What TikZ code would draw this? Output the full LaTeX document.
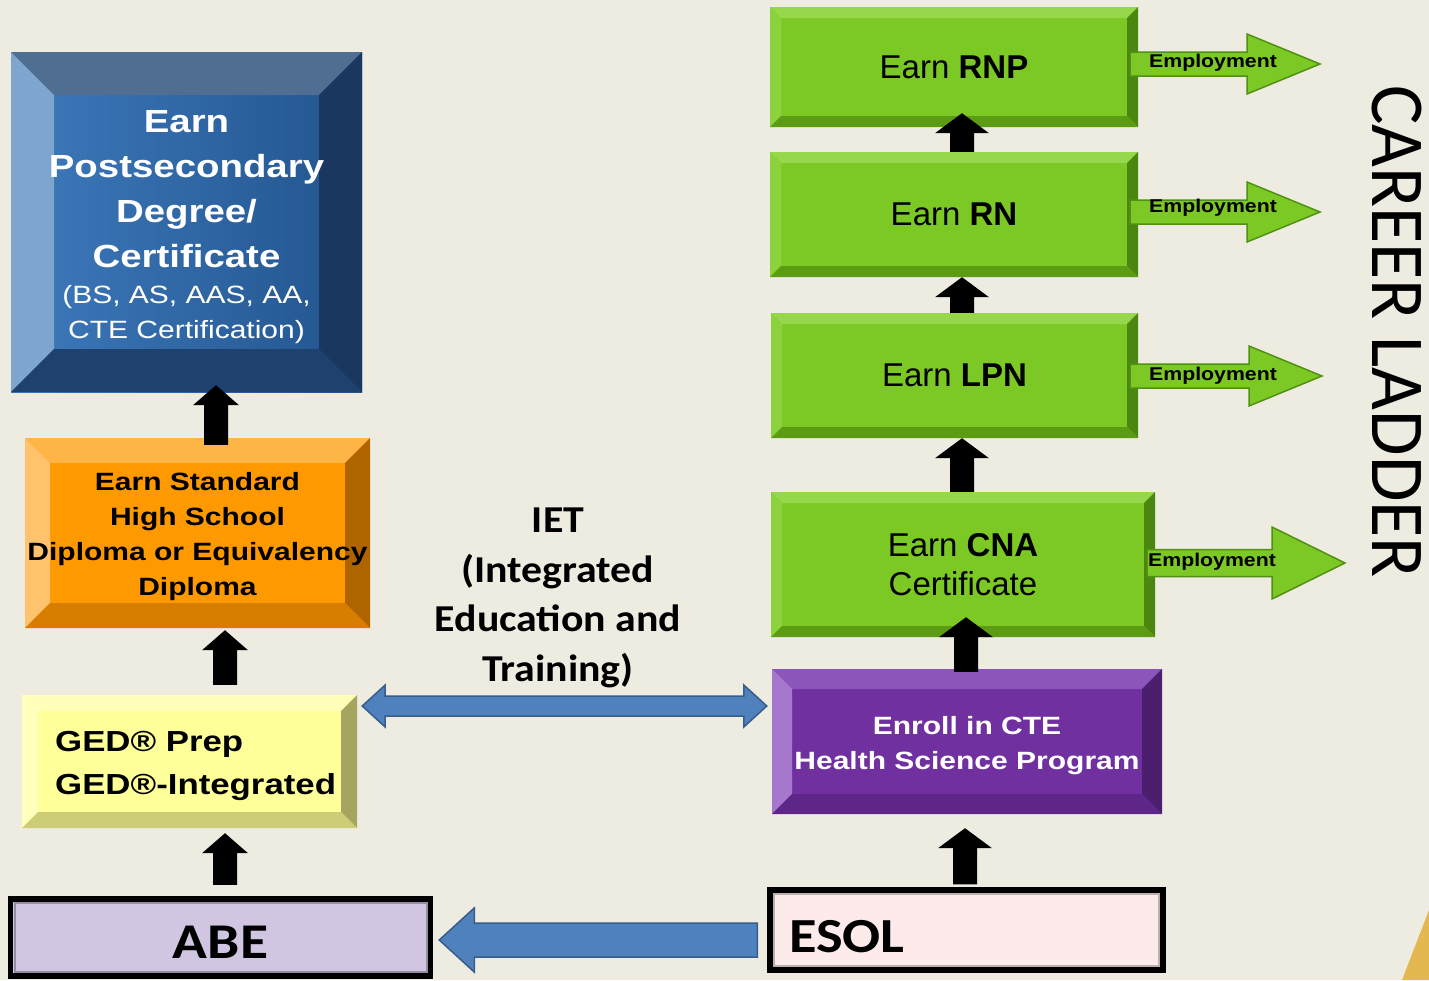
\documentclass[tikz,border=0pt]{standalone}
\usepackage{fontspec}
\usetikzlibrary{calc}
\setmainfont{Liberation Sans}
\newfontfamily\arialS[FakeStretch=1.2]{Liberation Sans}
\newfontfamily\arialE[FakeStretch=1.15]{Liberation Sans}
\newfontfamily\calS[FakeStretch=1.1]{Carlito}
\newfontfamily\calT[FakeStretch=1.15]{Carlito}
\newfontfamily\calN{Carlito}

\definecolor{bg}{RGB}{238,236,225}
\definecolor{gold}{RGB}{228,184,80}
% blue box
\definecolor{bfL}{RGB}{62,122,188}
\definecolor{bfR}{RGB}{34,84,142}
\definecolor{bT}{RGB}{80,110,145}
\definecolor{bL}{RGB}{125,165,205}
\definecolor{bR}{RGB}{25,55,95}
\definecolor{bB}{RGB}{30,65,110}
% orange
\definecolor{oF}{RGB}{255,153,0}
\definecolor{oT}{RGB}{255,180,70}
\definecolor{oL}{RGB}{255,195,110}
\definecolor{oR}{RGB}{175,100,0}
\definecolor{oB}{RGB}{215,125,0}
% yellow
\definecolor{yF}{RGB}{255,255,153}
\definecolor{yT}{RGB}{255,255,185}
\definecolor{yL}{RGB}{255,255,190}
\definecolor{yR}{RGB}{165,165,95}
\definecolor{yB}{RGB}{205,205,120}
% purple
\definecolor{pF}{RGB}{112,48,160}
\definecolor{pT}{RGB}{140,85,185}
\definecolor{pL}{RGB}{165,120,205}
\definecolor{pR}{RGB}{75,30,110}
\definecolor{pB}{RGB}{95,38,138}
% green
\definecolor{gF}{RGB}{124,200,36}
\definecolor{gT}{RGB}{150,215,75}
\definecolor{gL}{RGB}{140,210,60}
\definecolor{gR}{RGB}{75,135,15}
\definecolor{gB}{RGB}{92,155,20}
\definecolor{gE}{RGB}{80,145,20}
% others
\definecolor{lav}{RGB}{208,198,226}
\definecolor{lavE}{RGB}{150,140,165}
\definecolor{pink}{RGB}{253,234,234}
\definecolor{pinkE}{RGB}{190,175,175}
\definecolor{bluA}{RGB}{79,129,189}
\definecolor{bluE}{RGB}{56,93,138}

\tikzset{
  bev/.style n args={6}{fill=#2, path picture={
    \fill[#3] (path picture bounding box.north west) -- (path picture bounding box.north east)
      -- ([xshift=-#1,yshift=-#1]path picture bounding box.north east)
      -- ([xshift=#1,yshift=-#1]path picture bounding box.north west) -- cycle;
    \fill[#4] (path picture bounding box.north west) -- ([xshift=#1,yshift=-#1]path picture bounding box.north west)
      -- ([xshift=#1,yshift=#1]path picture bounding box.south west) -- (path picture bounding box.south west) -- cycle;
    \fill[#5] (path picture bounding box.north east) -- (path picture bounding box.south east)
      -- ([xshift=-#1,yshift=#1]path picture bounding box.south east)
      -- ([xshift=-#1,yshift=-#1]path picture bounding box.north east) -- cycle;
    \fill[#6] (path picture bounding box.south west) -- ([xshift=#1,yshift=#1]path picture bounding box.south west)
      -- ([xshift=-#1,yshift=#1]path picture bounding box.south east) -- (path picture bounding box.south east) -- cycle;
  }},
  box/.style={inner sep=0pt, align=center},
  greenbox/.style={box, bev={11pt}{gF}{gT}{gL}{gR}{gB}, font=\fontsize{33}{39}\selectfont},
  framed/.style n args={2}{box, draw=black, line width=5.5pt, fill=#1, path picture={
    \draw[#2, line width=2pt] ([xshift=4pt,yshift=-4pt]path picture bounding box.north west)
      rectangle ([xshift=-4pt,yshift=4pt]path picture bounding box.south east);}},
  emp/.style={fill=gF, draw=gE, line width=1.5pt, line join=miter},
  emptext/.style={font=\arialE\bfseries\fontsize{18.5}{20}\selectfont, text=black},
  blu/.style={fill=bluA, draw=bluE, line width=1.5pt, line join=miter}
}

\newcommand\blkarrow[3]{%
  \fill[black] let \p1=(#1), \p2=(#2) in
    (\x1-12pt,\y1) -- (\x1-12pt,\y2-20pt) -- (\x1-#3,\y2-20pt) -- (\x1,\y2)
    -- (\x1+#3,\y2-20pt) -- (\x1+12pt,\y2-20pt) -- (\x1+12pt,\y1) -- cycle;}

\newcommand\emparrow[5]{%
  \filldraw[emp] let \p1=(#1.east), \p2=(#2) in
    (\x1-8pt,\y2+#3) -- (\x2-#5,\y2+#3) -- (\x2-#5,\y2+#4) -- (\x2,\y2)
    -- (\x2-#5,\y2-#4) -- (\x2-#5,\y2-#3) -- (\x1-8pt,\y2-#3) -- cycle;}

\newcommand\regline{\mdseries\fontsize{25}{45}\selectfont}

\begin{document}
\begin{tikzpicture}[x=1pt,y=-1pt]
\fill[bg] (0,0) rectangle (1429,980);
\useasboundingbox (0,0) rectangle (1429,980);
\fill[gold] (1402,980) -- (1429,910) -- (1429,980) -- cycle;

% left column
\node[box, bev={43pt}{bfL}{bT}{bL}{bR}{bB}, left color=bfL, right color=bfR,
  minimum width=351pt, minimum height=340pt] (post) at (186.5,222) {};
\node[align=center, inner sep=0pt, text=white,
  font=\arialS\bfseries\fontsize{32}{45}\selectfont] (posttxt) at (186.5,227)
  {Earn\\Postsecondary\\Degree/\\Certificate\\[-8.5pt]\regline (BS, AS, AAS, AA,\\[-10pt]\regline CTE Certification)};

\node[box, bev={25pt}{oF}{oT}{oL}{oR}{oB}, minimum width=345pt, minimum height=190pt,
  font=\arialS\bfseries\fontsize{25}{35}\selectfont] (hs) at (197.5,533)
  {\rule{0pt}{26pt}Earn Standard\\High School\\Diploma or Equivalency\\Diploma};

\node[box, bev={16pt}{yF}{yT}{yL}{yR}{yB}, minimum width=335pt, minimum height=133pt] (ged) at (189.5,761.5) {};
\node[anchor=west, align=left, inner sep=0pt, font=\arialS\bfseries\fontsize{29}{43}\selectfont] (gedtxt) at (55,766)
  {GED® Prep\\GED®-Integrated};

\node[framed={lav}{lavE}, minimum width=420pt, minimum height=77pt,
  font=\calT\bfseries\fontsize{50}{55}\selectfont] (abe) at (220.5,937.5) {\raisebox{-21pt}[0pt][0pt]{ABE}};

% right column
\node[greenbox, minimum width=368pt, minimum height=120pt] (rnp) at (954,67) {Earn \textbf{RNP}};
\node[greenbox, minimum width=368pt, minimum height=125pt] (rn) at (954,214.5) {Earn \textbf{RN}};
\node[greenbox, minimum width=367pt, minimum height=125pt] (lpn) at (954.5,375.5) {Earn \textbf{LPN}};
\node[greenbox, minimum width=384pt, minimum height=145pt] (cna) at (963,564.5) {Earn \textbf{CNA}\\Certificate};

\node[box, bev={20pt}{pF}{pT}{pL}{pR}{pB}, minimum width=390pt, minimum height=145pt, text=white,
  font=\arialS\bfseries\fontsize{25}{35}\selectfont] (cte) at (967,741.5)
  {\rule{0pt}{26pt}Enroll in CTE\\Health Science Program};

\node[framed={pink}{pinkE}, minimum width=393pt, minimum height=80pt] (esol) at (966.5,930) {};
\node[anchor=west, inner sep=0pt, font=\calT\bfseries\fontsize{49}{55}\selectfont] (esoltxt) at (789,937) {ESOL};

% middle text
\node[align=center, inner sep=0pt, font=\calS\bfseries\fontsize{38}{49.5}\selectfont] (iet) at (558,598)
  {IET\\(Integrated\\Education and\\Training)};

% career ladder
\node[rotate=-90, anchor=base, inner sep=0pt, font=\calN\fontsize{74}{80}\selectfont] (ladder) at (1372,331.5)
  {\scalebox{1}[1.03]{CAREER LADDER}};

% black up arrows
\blkarrow{[xshift=4.5pt,yshift=11.5pt]abe.north}{[yshift=-5pt]ged.south}{23pt}
\blkarrow{[xshift=35.5pt,yshift=10pt]ged.north}{[yshift=-2pt]hs.south}{23pt}
\blkarrow{[xshift=18.5pt,yshift=-7pt]hs.north}{[yshift=7pt]post.south}{23pt}
\blkarrow{[xshift=-1.5pt,yshift=3pt]esol.north}{[yshift=-14pt]cte.south}{27pt}
\blkarrow{[xshift=-1pt,yshift=-3pt]cte.north}{[yshift=20pt]cna.south}{27pt}
\blkarrow{[xshift=-1pt]cna.north}{lpn.south}{27pt}
\blkarrow{[xshift=7.5pt]lpn.north}{rn.south}{27pt}
\blkarrow{[xshift=8pt]rn.north}{[yshift=14pt]rnp.south}{27pt}

% employment arrows
\coordinate (t1) at (1320,64);
\coordinate (t2) at (1320,212);
\coordinate (t3) at (1322,376);
\coordinate (t4) at (1345,563);
\emparrow{rnp}{t1}{12pt}{30pt}{73pt}
\emparrow{rn}{t2}{12pt}{30pt}{73pt}
\emparrow{lpn}{t3}{12pt}{30pt}{73pt}
\emparrow{cna}{t4}{13.5pt}{36pt}{73pt}
\node[emptext] (e1) at (1213,63) {Employment};
\node[emptext] (e2) at (1213,208) {Employment};
\node[emptext] (e3) at (1213,376) {Employment};
\node[emptext] (e4) at (1212,562) {Employment};

% blue arrows
\filldraw[blu] let \p1=(ged.east), \p2=(cte.west), \p3=(0,706) in
  (\x1+5pt,\y3) -- (\x1+28pt,\y3+21pt) -- (\x1+28pt,\y3+10pt) -- (\x2-28pt,\y3+10pt)
  -- (\x2-28pt,\y3+21pt) -- (\x2-5pt,\y3) -- (\x2-28pt,\y3-21pt) -- (\x2-28pt,\y3-10pt)
  -- (\x1+28pt,\y3-10pt) -- (\x1+28pt,\y3-21pt) -- cycle;
\filldraw[blu] let \p1=(esol.west), \p2=(abe.east), \p3=(0,940) in
  (\x1-10pt,\y3+17pt) -- (\x2+41pt,\y3+17pt) -- (\x2+41pt,\y3+32pt) -- (\x2+6pt,\y3)
  -- (\x2+41pt,\y3-32pt) -- (\x2+41pt,\y3-17pt) -- (\x1-10pt,\y3-17pt) -- cycle;
\end{tikzpicture}
\end{document}
